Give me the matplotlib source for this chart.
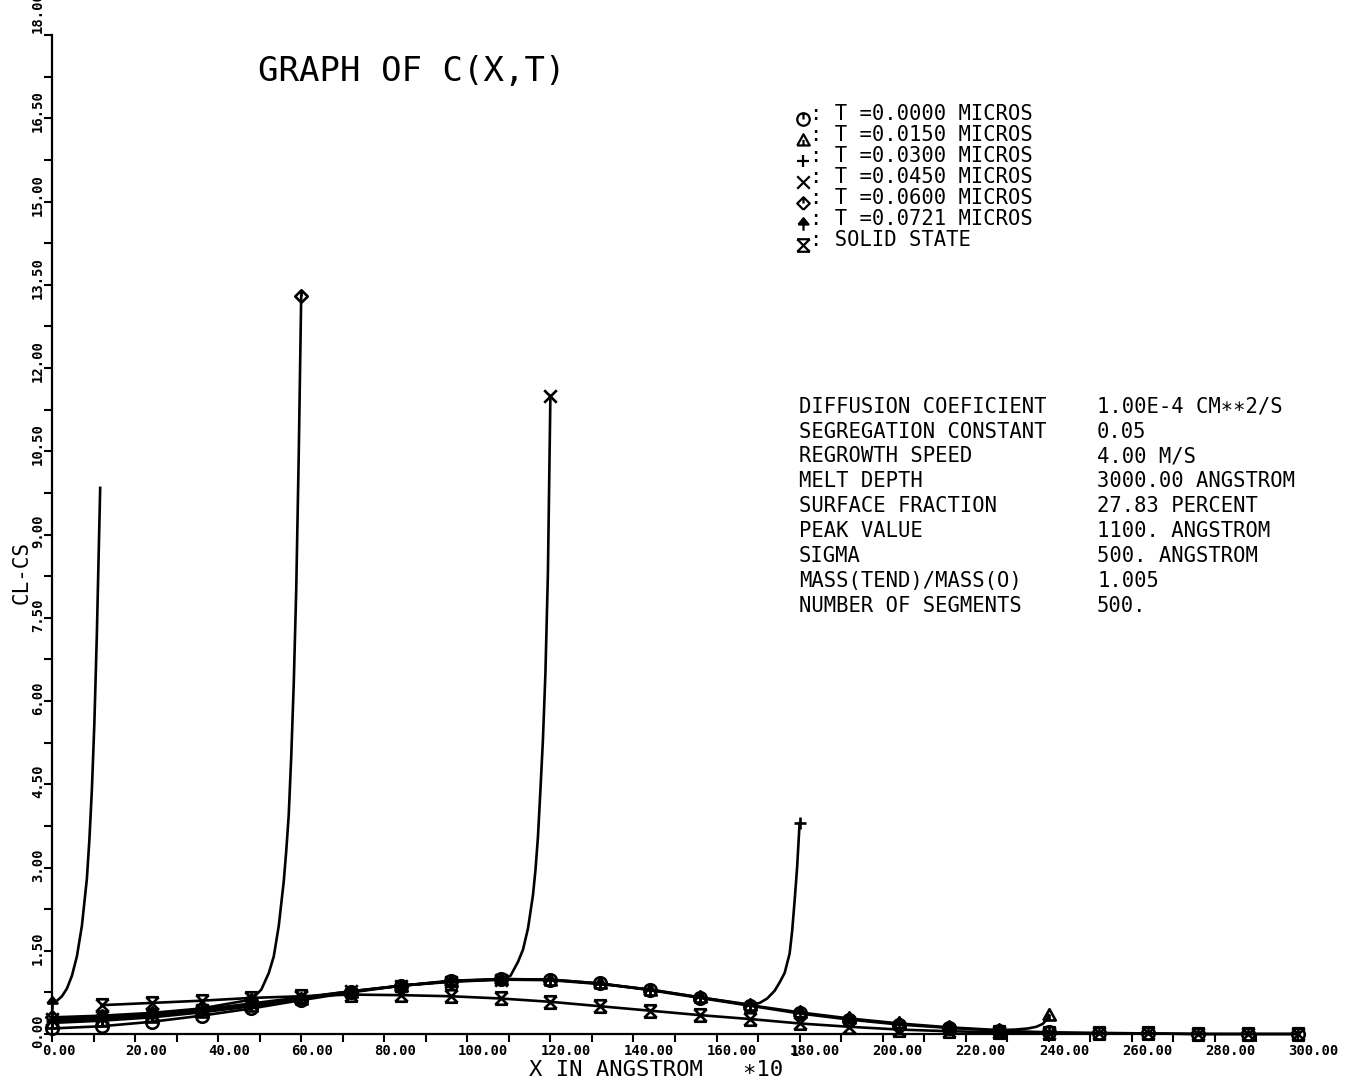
import numpy as np
import matplotlib
matplotlib.use("Agg")
import matplotlib.pyplot as plt
from matplotlib.path import Path
from matplotlib.lines import Line2D
from matplotlib.transforms import offset_copy

plt.rcParams['font.family'] = ['DejaVu Sans Mono', 'DejaVu Sans']

# ---------------- data ----------------
x_ticks_major = [0, 20, 40, 60, 80, 100, 120, 140, 160, 180, 200, 220, 240, 260, 280, 300]
x_tick_labels = ["0.00", "20.00", "40.00", "60.00", "80.00", "100.00", "120.00", "140.00",
                 "160.00", "180.00", "200.00", "220.00", "240.00", "260.00", "280.00", "300.00"]
y_ticks_major = [0, 1.5, 3, 4.5, 6, 7.5, 9, 10.5, 12, 13.5, 15, 16.5, 18]
y_tick_labels = ["0.00", "1.50", "3.00", "4.50", "6.00", "7.50", "9.00", "10.50",
                 "12.00", "13.50", "15.00", "16.50", "18.00"]

# T = 0.0000 micros
t0_x = [0, 12, 24, 36, 48, 60, 72, 84, 96, 108, 120, 132, 144, 156, 168, 180, 192, 204,
        216, 228, 240, 252, 264, 276, 288, 300]
t0_y = [0.10, 0.14, 0.22, 0.33, 0.46, 0.61, 0.75, 0.87, 0.96, 0.99, 0.98, 0.91, 0.79, 0.65,
        0.51, 0.37, 0.26, 0.17, 0.11, 0.06, 0.03, 0.02, 0.01, 0.0, 0.0, 0.0]

# T = 0.0150 micros
t1_x = [0, 12, 24, 36, 48, 60, 72, 84, 96, 108, 120, 132, 144, 156, 168, 180, 192, 204,
        216, 228, 232, 235, 237, 238.5, 239.4, 240]
t1_y = [0.20, 0.24, 0.30, 0.39, 0.50, 0.63, 0.76, 0.87, 0.95, 0.99, 0.98, 0.91, 0.80, 0.66,
        0.52, 0.39, 0.28, 0.19, 0.12, 0.07, 0.08, 0.10, 0.13, 0.18, 0.25, 0.34]

# T = 0.0300 micros
t2_x = [0, 12, 24, 36, 48, 60, 72, 84, 96, 108, 120, 132, 144, 156, 168,
        170.4, 172.2, 174.0, 175.2, 176.4, 177.6, 178.2, 178.8, 179.4, 180]
t2_y = [0.24, 0.27, 0.33, 0.42, 0.53, 0.65, 0.77, 0.87, 0.95, 0.98, 0.97, 0.90, 0.80, 0.66, 0.53,
        0.56, 0.64, 0.78, 0.93, 1.10, 1.45, 1.85, 2.40, 3.00, 3.80]

# T = 0.0450 micros
t3_x = [0, 12, 24, 36, 48, 60, 72, 84, 96, 108,
        110.4, 112.2, 113.4, 114.6, 115.8, 116.4, 117.0, 117.6, 118.2, 118.8, 119.4, 120]
t3_y = [0.27, 0.30, 0.36, 0.44, 0.55, 0.66, 0.77, 0.87, 0.94, 0.98,
        1.05, 1.30, 1.52, 1.90, 2.50, 2.95, 3.55, 4.40, 5.30, 6.50, 8.30, 11.50]

# T = 0.0600 micros
t4_x = [0, 12, 24, 36, 48, 50.4, 52.2, 53.4, 54.6, 55.8, 56.4, 57.0, 57.6, 58.2, 58.8, 59.4, 60]
t4_y = [0.30, 0.33, 0.38, 0.46, 0.62, 0.80, 1.10, 1.40, 1.95, 2.75, 3.30, 3.95, 5.00, 6.30,
        8.00, 10.40, 13.30]

# T = 0.0721 micros
t5_x = [0, 1.2, 2.4, 3.6, 4.8, 6.0, 7.2, 8.4, 9.0, 9.6, 10.2, 10.8, 11.6]
t5_y = [0.56, 0.60, 0.68, 0.82, 1.05, 1.40, 1.95, 2.80, 3.50, 4.40, 5.60, 7.20, 9.84]

# Solid state
ss_x = [12, 24, 36, 48, 60, 72, 84, 96, 108, 120, 132, 144, 156, 168, 180, 192, 204, 216,
        228, 240, 252, 264, 276, 288, 300]
ss_y = [0.52, 0.56, 0.60, 0.65, 0.68, 0.71, 0.70, 0.68, 0.64, 0.58, 0.50, 0.42, 0.34, 0.27,
        0.19, 0.13, 0.08, 0.05, 0.03, 0.02, 0.01, 0.01, 0.0, 0.0, 0.0]

legend_labels = [": T =0.0000 MICROS", ": T =0.0150 MICROS", ": T =0.0300 MICROS",
                 ": T =0.0450 MICROS", ": T =0.0600 MICROS", ": T =0.0721 MICROS",
                 ": SOLID STATE"]

param_names = ["DIFFUSION COEFICIENT", "SEGREGATION CONSTANT", "REGROWTH SPEED", "MELT DEPTH",
               "SURFACE FRACTION", "PEAK VALUE", "SIGMA", "MASS(TEND)/MASS(O)",
               "NUMBER OF SEGMENTS"]
param_values = ["1.00E-4 CM\u2217\u22172/S", "0.05", "4.00 M/S", "3000.00 ANGSTROM",
                "27.83 PERCENT", "1100. ANGSTROM", "500. ANGSTROM", "1.005", "500."]

# ---------------- markers ----------------
M, L = Path.MOVETO, Path.LINETO
circ_tick = Path.make_compound_path(Path.unit_circle(), Path([(0, 0), (0, 1)], [M, L]))
tri_mark = Path([(-1, -0.8), (1, -0.8), (0, 1), (-1, -0.8), (0, -0.8), (0, 0.1)],
                [M, L, L, L, M, L])
plus_mark = Path([(-1, 0), (1, 0), (0, -1), (0, 1)], [M, L, M, L])
x_mark = Path([(-1, -1), (1, 1), (-1, 1), (1, -1)], [M, L, M, L])
dia_mark = Path([(0, -1), (1, 0), (0, 1), (-1, 0), (0, -1), (0, 0), (0, 1)],
                [M, L, L, L, L, M, L])
spade_mark = Path([(-0.8, 0), (0.8, 0), (0, 1), (-0.8, 0), (0, 0), (0, -1)],
                  [M, L, L, L, M, L])
hour_mark = Path([(-1, 1), (1, 1), (-1, -1), (1, -1), (-1, 1), (1, -1), (-1, -1), (1, 1)],
                 [M, L, M, L, M, L, M, L])

series = [
    (t0_x, t0_y, circ_tick, 'none'),
    (t1_x, t1_y, tri_mark, 'none'),
    (t2_x, t2_y, plus_mark, 'none'),
    (t3_x, t3_y, x_mark, 'none'),
    (t4_x, t4_y, dia_mark, 'none'),
    (t5_x, t5_y, spade_mark, 'black'),
    (ss_x, ss_y, hour_mark, 'none'),
]

W, H = 1347, 1088
fig = plt.figure(figsize=(W / 100, H / 100), dpi=100)
fig.patch.set_facecolor('white')
ax = fig.add_axes([52 / W, 54 / H, (1298 - 52) / W, (1034 - 35) / H])
ax.set_xlim(0, 300)
ax.set_ylim(0, 18)
ax.set_facecolor('white')

for xs, ys, mk, fc in series:
    every = [i for i, v in enumerate(xs) if abs(v / 12 - round(v / 12)) < 1e-9]
    ax.plot(xs, ys, color='black', lw=1.9, marker=mk, markevery=every, ms=9,
            mfc=fc, mec='black', mew=1.9, clip_on=False, solid_joinstyle='round')

for s in ['top', 'right']:
    ax.spines[s].set_visible(False)
for s in ['left', 'bottom']:
    ax.spines[s].set_linewidth(1.6)

ax.set_xticks(np.arange(0, 301, 10))
ax.set_yticks(np.arange(0, 18.01, 0.75))
ax.set_xticklabels([])
ax.set_yticklabels([])
ax.tick_params(direction='out', length=6, width=1.5, color='black')

tick_font = dict(fontsize=10, fontweight='bold', color='black')
for v, lab in zip(x_ticks_major, x_tick_labels):
    tr = offset_copy(ax.transData, fig=fig, x=-10, y=-17, units='dots')
    ax.text(v, 0, lab, transform=tr, ha='left', va='center', clip_on=False, **tick_font)
for v, lab in zip(y_ticks_major, y_tick_labels):
    dy = -14 if v < 18 else 2
    tr = offset_copy(ax.transData, fig=fig, x=-14, y=dy, units='dots')
    ax.text(0, v, lab, transform=tr, rotation=90, ha='center', va='bottom',
            clip_on=False, **tick_font)


def fx(px):
    return px / W


def fy(py):
    return 1 - py / H


fig.text(fx(258), fy(72), "GRAPH OF C(X,T)", fontsize=24.5, ha='left', va='center')
fig.text(fx(529), fy(1070), "X IN ANGSTROM   \u221710", fontsize=16, ha='left', va='center')
fig.text(fx(790), fy(1052), "1", fontsize=10, ha='left', va='center')
fig.text(fx(22), fy(572), "CL-CS", fontsize=15, rotation=90, ha='center', va='center')

leg_rows = [114, 135, 156, 177, 198, 219, 240]
for (xs, ys, mk, fc), lab, ry in zip(series, legend_labels, leg_rows):
    fig.add_artist(Line2D([fx(803)], [fy(ry + 5)], transform=fig.transFigure, marker=mk,
                          ms=9, mfc=fc, mec='black', mew=1.6, color='black'))
    fig.text(fx(810), fy(ry), lab, fontsize=14.8, ha='left', va='center')

par_rows = [407, 432, 456, 481, 506, 531, 556, 581, 606]
for name, val, ry in zip(param_names, param_values, par_rows):
    fig.text(fx(799), fy(ry), name, fontsize=14.8, ha='left', va='center')
    fig.text(fx(1097), fy(ry), val, fontsize=14.8, ha='left', va='center')

fig.savefig("out.png", dpi=100, facecolor='white')
